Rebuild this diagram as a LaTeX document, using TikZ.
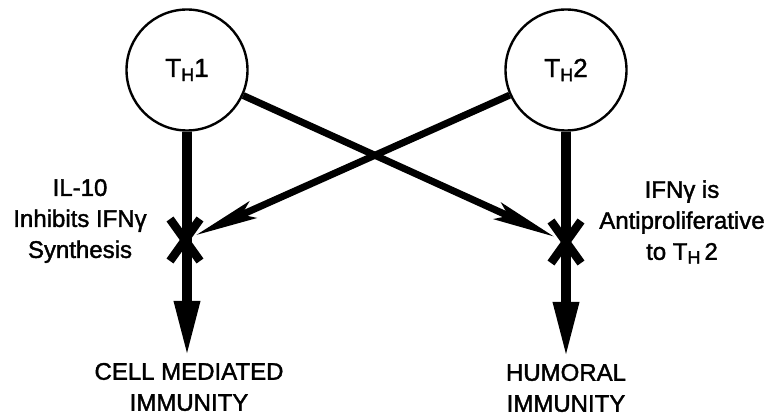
\documentclass[tikz,border=0pt]{standalone}
\usepackage{fontspec}
\setmainfont[FakeBold=1.6]{Liberation Sans}
\usetikzlibrary{arrows.meta}
\tikzset{
  cell/.style={circle, draw, line width=2.4pt, minimum size=121pt, inner sep=0pt,
               font=\fontsize{26}{30}\selectfont},
  lbl/.style={align=center, inner sep=0pt, font=\fontsize{24}{31}\selectfont},
  vert/.style={line width=9.5pt, -{Triangle[length=56pt,width=24pt]}},
  diag/.style={line width=7pt, -{Stealth[length=62pt,width=18pt,inset=12pt]}},
  xmark/.style={line width=8.5pt}
}
\newcommand{\Th}[1]{T\raisebox{-0.3ex}{\fontsize{18}{18}\selectfont H}#1}
\begin{document}
\begin{tikzpicture}[x=1pt,y=-1pt]
\useasboundingbox (0,0) rectangle (771,417);
\node[cell] (th1) at (187,70) {\Th{1}};
\node[cell] (th2) at (566,70) {\Th{2}};
\coordinate (xl) at (185,240);
\coordinate (xr) at (566,242);
\node[lbl] (cm) at (189,387) {CELL MEDIATED\\IMMUNITY};
\node[lbl] (hm) at (566,388) {HUMORAL\\IMMUNITY};
\node[lbl] (il) at (80,221) {IL-10\\Inhibits IFNγ\\Synthesis};
\node[lbl] (ifn) at (682,222) {IFNγ is\\Antiproliferative\\to \Th{\,2}};
% vertical arrows
\draw[vert, shorten >=6pt] (th1.south) -- (th1.south |- cm.north);
\draw[vert, shorten >=6pt] (th2.south) -- (th2.south |- hm.north);
% diagonal arrows
\draw[diag, shorten >=13pt] (th1) -- (xr);
\draw[diag, shorten >=12pt] (th2) -- (xl);
% X marks
\draw[xmark] ([shift={(-15,-21)}]xl) -- ([shift={(15,21)}]xl);
\draw[xmark] ([shift={(15,-21)}]xl) -- ([shift={(-15,21)}]xl);
\draw[xmark] ([shift={(-15,-21)}]xr) -- ([shift={(15,21)}]xr);
\draw[xmark] ([shift={(15,-21)}]xr) -- ([shift={(-15,21)}]xr);
\end{tikzpicture}
\end{document}
